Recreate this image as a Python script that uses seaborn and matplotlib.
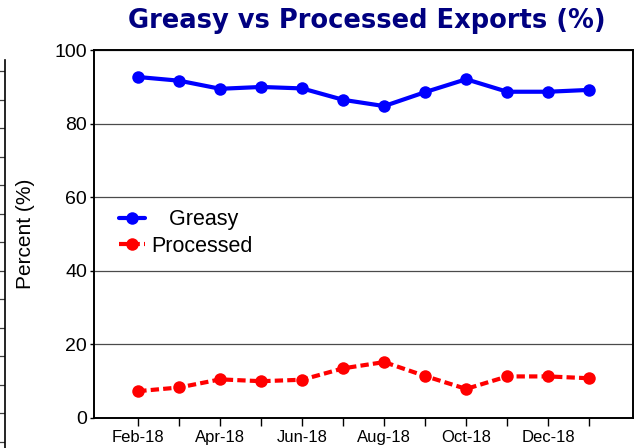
import pandas as pd
import numpy as np
import matplotlib.pyplot as plt
import seaborn as sns

# data
months = ["Feb-18", "Mar-18", "Apr-18", "May-18", "Jun-18", "Jul-18",
          "Aug-18", "Sep-18", "Oct-18", "Nov-18", "Dec-18", "Jan-19"]
greasy = [92.7, 91.7, 89.5, 90.0, 89.6, 86.5, 84.8, 88.6, 92.1, 88.7, 88.7, 89.2]
processed = [7.3, 8.3, 10.5, 10.0, 10.4, 13.5, 15.2, 11.4, 7.9, 11.3, 11.3, 10.8]
y_ticks = [0, 20, 40, 60, 80, 100]

df = pd.DataFrame({"month": months, "Greasy": greasy, "Processed": processed})
df["pos"] = np.arange(len(df))

sns.set_style("white")
plt.rcParams['font.family'] = ['Liberation Sans', 'DejaVu Sans']
plt.rcParams['text.color'] = 'black'
plt.rcParams['xtick.color'] = 'black'
plt.rcParams['ytick.color'] = 'black'
plt.rcParams['axes.labelcolor'] = 'black'

fig = plt.figure(figsize=(6.42, 4.48), dpi=100)
ax = fig.add_axes([0.1464, 0.067, 0.8396, 0.821])

sns.lineplot(data=df, x="pos", y="Greasy", ax=ax, color="#0000ff",
             linewidth=3, marker="o", markersize=9, markeredgewidth=0,
             label="   Greasy")
sns.lineplot(data=df, x="pos", y="Processed", ax=ax, color="#ff0000",
             linewidth=3, marker="o", markersize=9, markeredgewidth=0,
             label="Processed", linestyle=(0, (2, 1)))

ax.set_xlim(-1.08, len(months) - 1 + 1.07)
ax.set_ylim(0, 100)
ax.set_yticks(y_ticks)
ax.set_xticks(df["pos"])
ax.set_xticklabels([m if i % 2 == 0 else "" for i, m in enumerate(months)])
ax.yaxis.grid(True, color="#4a4a4a", linewidth=0.9)
ax.set_axisbelow(True)
for s in ax.spines.values():
    s.set_color("black")
    s.set_linewidth(1.4)
ax.tick_params(axis="y", labelsize=14, direction="out", length=3, width=1, left=True, pad=2)
ax.tick_params(axis="x", labelsize=12, direction="out", length=6, width=1, bottom=True, pad=3)
ax.set_xlabel("")
ax.set_ylabel("Percent (%)", fontsize=15, labelpad=14)

ax.legend(loc="center left", bbox_to_anchor=(0.03, 0.503), frameon=False,
          fontsize=15.5, handlelength=1.2, handletextpad=0.3, labelspacing=0.25,
          borderaxespad=0.0)

fig.text(0.572, 0.953, "Greasy vs Processed Exports (%)", ha="center", va="center",
         fontsize=18.5, fontweight="bold", color="#000080", family="DejaVu Sans")

# right edge of the neighbouring chart, cut off at the left side
ax2 = fig.add_axes([-0.05, -0.05, 0.058, 0.916])
ax2.set_xlim(0, 1)
ax2.set_ylim(0, 14.4)
ax2.set_yticks(np.arange(0, 15, 1))
ax2.set_xticks([])
ax2.yaxis.grid(True, color="#404040", linewidth=0.9)
ax2.tick_params(axis="y", left=False, labelleft=False)
for k in ["left", "bottom", "top"]:
    ax2.spines[k].set_visible(False)
ax2.spines["right"].set_color("black")
ax2.spines["right"].set_linewidth(1.2)

fig.savefig("out.png", dpi=100)
